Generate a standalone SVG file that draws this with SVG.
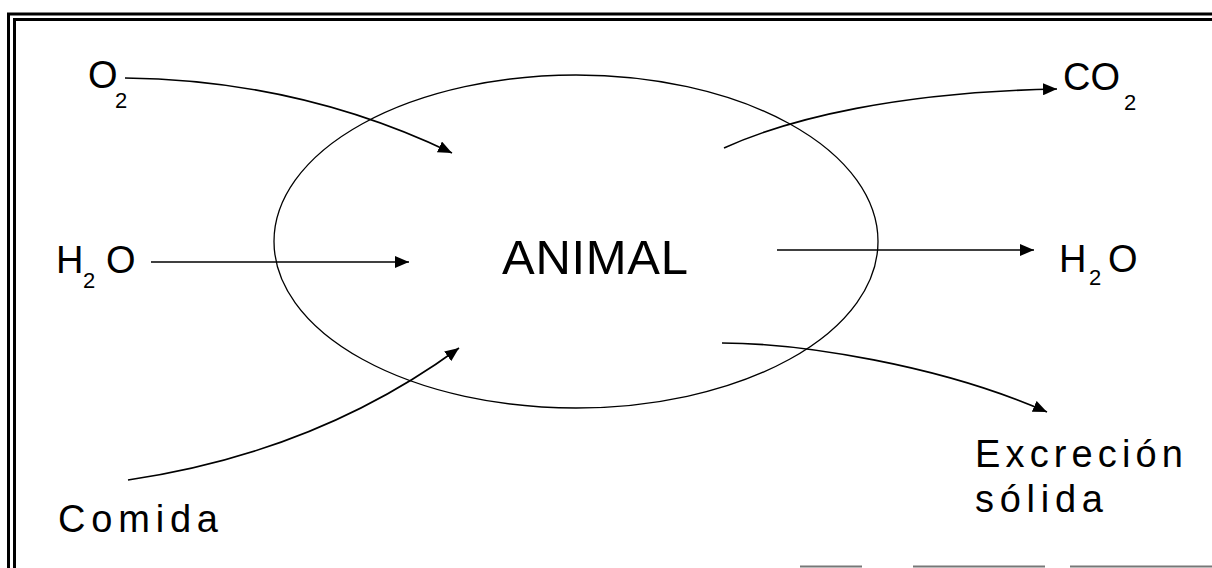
<svg xmlns="http://www.w3.org/2000/svg" width="1212" height="568" viewBox="0 0 1212 568">
<style>
.lbl{font-family:"Liberation Sans",Arial,sans-serif;font-size:38px;fill:#000}
.sub{font-size:22px}
.conn{fill:none;stroke:#000;stroke-width:1.6}
.frame{stroke:#000;stroke-width:3;fill:none}
</style>
<defs>
<marker id="ah" markerUnits="userSpaceOnUse" markerWidth="16" markerHeight="12" refX="14" refY="6" orient="auto">
<path d="M0,0 L14,6 L0,12 Z" fill="#000"/>
</marker>
</defs>
<rect width="1212" height="568" fill="#fff"/>
<g id="frame">
<path class="frame" d="M8.5,568 V14 H1212"/>
<path class="frame" d="M14.5,568 V19.5 H1212"/>
<path d="M800,566.5 H862 M913,566.5 H1045 M1070,566.5 H1212" stroke="#777" stroke-width="2"/>
</g>
<g id="animal">
<ellipse cx="576" cy="241.5" rx="302" ry="166.5" fill="none" stroke="#000" stroke-width="1.3"/>
<text class="lbl" x="502" y="274" textLength="186" lengthAdjust="spacing" style="font-size:49px">ANIMAL</text>
</g>
<g id="o2-in"><text class="lbl" x="88" y="88">O<tspan class="sub" x="115" y="108">2</tspan></text></g>
<g id="h2o-in"><text class="lbl" x="56" y="273">H<tspan class="sub" x="83" y="288">2</tspan><tspan x="106" y="273">O</tspan></text></g>
<g id="comida"><text class="lbl" x="58" y="532" textLength="160" lengthAdjust="spacing">Comida</text></g>
<g id="co2-out"><text class="lbl" x="1063" y="90">CO<tspan class="sub" x="1124" y="110">2</tspan></text></g>
<g id="h2o-out"><text class="lbl" x="1059" y="272">H<tspan class="sub" x="1089" y="285">2</tspan><tspan x="1108" y="272">O</tspan></text></g>
<g id="excrecion"><text class="lbl" x="975" y="467" textLength="208" lengthAdjust="spacing">Excreción</text><text class="lbl" x="975" y="512" textLength="128" lengthAdjust="spacing">sólida</text></g>
<g id="connectors">
<path class="conn" marker-end="url(#ah)" d="M125,78 Q300,80 452,153"/>
<path class="conn" marker-end="url(#ah)" d="M151,262 H409"/>
<path class="conn" marker-end="url(#ah)" d="M128,480 Q317,452 459,348"/>
<path class="conn" marker-end="url(#ah)" d="M724,148 C790,118 900,92 1057,89"/>
<path class="conn" marker-end="url(#ah)" d="M777,250 H1034"/>
<path class="conn" marker-end="url(#ah)" d="M722,343 C800,343 940,365 1047,412"/>
</g>
</svg>
